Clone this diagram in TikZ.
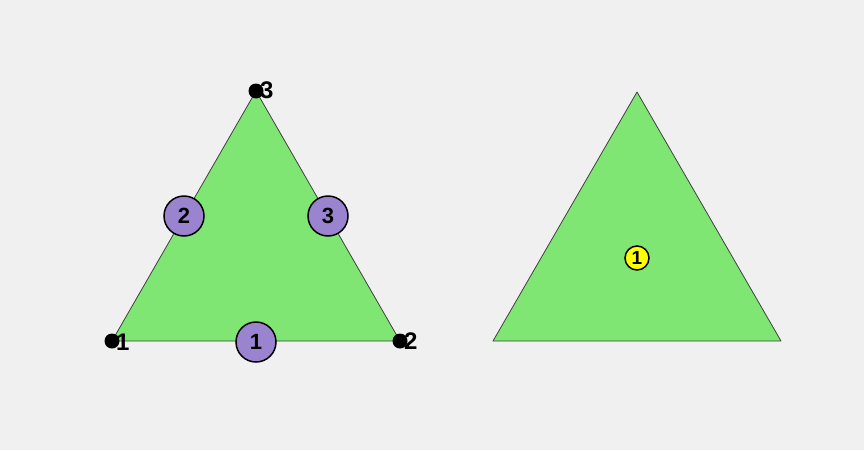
\documentclass[tikz,border=0pt]{standalone}
\usepackage{fontspec}
\setmainfont{Liberation Sans}
\definecolor{bg}{HTML}{F0F0F0}
\definecolor{tri}{HTML}{80E673}
\definecolor{purp}{HTML}{9B84CF}
\definecolor{yel}{HTML}{FFFF00}
\tikzset{
  elem/.style={fill=tri, draw=black!75, line width=0.8pt, line join=round},
  vdot/.style={circle, fill=black, inner sep=0pt, minimum size=15pt},
  vlab/.style={font=\fontsize{24}{24}\selectfont\bfseries, inner sep=0pt, anchor=west},
  edgen/.style={circle, fill=purp, draw=black, line width=1.5pt, minimum size=40pt, inner sep=0pt, font=\fontsize{22}{22}\selectfont\bfseries},
  cellc/.style={circle, fill=yel, draw=black, line width=1.5pt, minimum size=24pt, inner sep=0pt, font=\fontsize{19}{19}\selectfont\bfseries}
}
\begin{document}
\begin{tikzpicture}[x=1pt,y=-1pt]
\fill[bg] (0,0) rectangle (864,450);
\useasboundingbox (0,0) rectangle (864,450);
% left triangle
\coordinate (A1) at (112,341);
\coordinate (A2) at (400,341);
\coordinate (A3) at (256,91);
\draw[elem] (A1) -- (A2) -- (A3) -- cycle;
\node[edgen] (e1) at (256,342) {1};
\node[edgen] (e2) at (184,216) {2};
\node[edgen] (e3) at (328,216) {3};
\node[vdot] (d1) at (A1) {};
\node[vdot] (d2) at (A2) {};
\node[vdot] (d3) at (A3) {};
\node[vlab] (l1) at (116,342) {1};
\node[vlab] (l2) at (404,341) {2};
\node[vlab] (l3) at (260,90) {3};
% right triangle
\coordinate (B1) at (493,341);
\coordinate (B2) at (781,341);
\coordinate (B3) at (637,92);
\draw[elem] (B1) -- (B2) -- (B3) -- cycle;
\node[cellc] (c1) at (637,258) {1};
\end{tikzpicture}
\end{document}
